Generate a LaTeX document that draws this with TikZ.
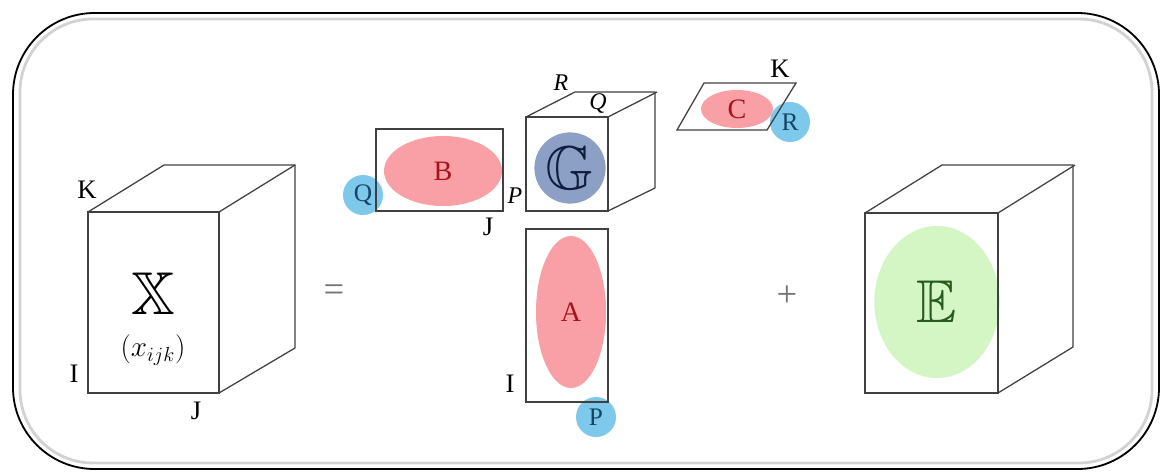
\documentclass[tikz,border=0pt]{standalone}
\usepackage{amsmath, amssymb}
\usepackage{fontspec}
\setmainfont{Liberation Serif}
\usepackage{tikz}
\usetikzlibrary{shapes,arrows}

\definecolor{fpink}{RGB}{248,160,166}
\definecolor{fred}{RGB}{165,20,30}
\definecolor{fblue}{RGB}{125,200,235}
\definecolor{fteal}{RGB}{20,70,100}
\definecolor{fslate}{RGB}{140,160,198}
\definecolor{fnavy}{RGB}{15,30,60}
\definecolor{fgreen}{RGB}{212,245,196}
\definecolor{fdgreen}{RGB}{40,90,30}

\begin{document}
\begin{tikzpicture}[x=0.025cm,y=-0.025cm,
    lbl/.style={font=\fontsize{19}{21}\selectfont},
    ilbl/.style={font=\fontsize{17}{19}\selectfont\itshape},
    opr/.style={text=black!55,font=\fontsize{26}{28}\selectfont},
    blob/.style={ellipse,fill=fpink,text=fred,inner sep=0pt,font=\fontsize{20}{22}\selectfont},
    dot/.style={circle,fill=fblue,text=fteal,inner sep=0pt,minimum size=1cm,font=\fontsize{18}{20}\selectfont},
    edge/.style={draw=black!75,line width=0.9pt}]
    \useasboundingbox (0,0) rectangle (1161,472);

    % Draw the frame
    \draw [gray!35,line width=2pt,rounded corners=52] (20,19) rectangle (1152,463);
    \draw [black,line width=1.3pt,rounded corners=58] (13,13) rectangle (1159,469);

    % Tensor X
    \draw [edge] (88,212) rectangle (219,393);
    \draw [edge] (88,212) -- ++(76,-47) -- ++(131,0) -- ++(0,183) -- (219,393);
    \draw [edge] (219,212) -- ++(76,-47);
    \node (X) at (153,294) {\fontsize{43}{46}\selectfont$\mathbb{X}$};
    \node (xijk) at (153,350) {\fontsize{22}{24}\selectfont$\left(x_{ijk}\right)$};
    \node [lbl] (K1) at (87,190) {K};
    \node [lbl] (I1) at (74,374) {I};
    \node [lbl] (J1) at (196,411) {J};

    \node [opr] (eq) at (334,293) {=};

    % Factor B
    \node [blob,minimum width=2.95cm,minimum height=1.75cm] (B) at (443,171) {B};
    \node [dot] (Q) at (363,195) {Q};
    \draw [edge] (376,129) rectangle (503,211);
    \node [lbl] (J2) at (488,227) {J};

    % Core G
    \node [circle,fill=fslate,inner sep=0pt,minimum size=1.78cm,
        text=fnavy,font=\fontsize{44}{46}\selectfont] (G) at (570,168) {$\mathbb{G}$};
    \draw [edge] (526,117) rectangle (608,211);
    \draw [edge] (526,117) -- ++(49,-25) -- ++(80,0) -- ++(0,96) -- (608,211);
    \draw [edge] (608,117) -- ++(49,-25);
    \node [ilbl] (Rg) at (561,83) {R};
    \node [ilbl] (Qg) at (598,104) {Q};
    \node [ilbl] (Pg) at (515,196) {P};

    % Factor A
    \node [blob,minimum width=1.75cm,minimum height=3.8cm] (A) at (571,312) {A};
    \node [dot] (P) at (596,417) {P};
    \draw [edge] (526,229) rectangle (608,402);
    \node [lbl] (I2) at (510,384) {I};

    % Factor C
    \node [blob,minimum width=1.8cm,minimum height=0.95cm] (C) at (737,109) {C};
    \node [dot] (R) at (790,122) {R};
    \draw [edge] (677,130) -- (704,83) -- (796,83) -- (767,130) -- cycle;
    \node [lbl] (K2) at (780,69) {K};

    \node [opr] (plus) at (787,296) {+};

    % Error E
    \node [ellipse,fill=fgreen,inner sep=0pt,minimum width=3.13cm,minimum height=3.8cm,
        text=fdgreen,font=\fontsize{43}{46}\selectfont] (E) at (937,302) {$\mathbb{E}$};
    \draw [edge] (865,213) rectangle (998,393);
    \draw [edge] (865,213) -- ++(77,-48) -- ++(131,0) -- ++(0,182) -- (998,393);
    \draw [edge] (998,213) -- ++(77,-48);
\end{tikzpicture}
\end{document}
